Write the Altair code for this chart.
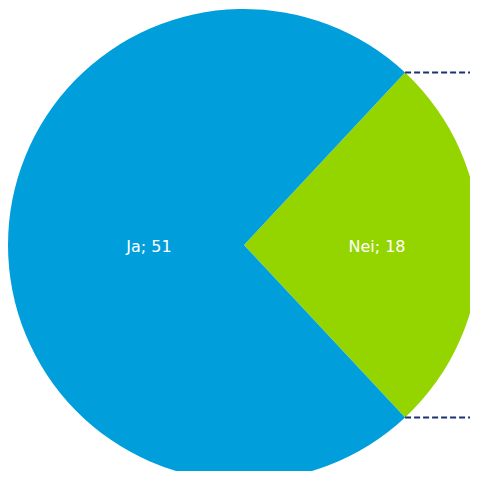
import math
import altair as alt
import pandas as pd

categories = ["Nei", "Ja"]
values = [18, 51]
colors = ["#94D500", "#009FDC"]

df = pd.DataFrame({"cat": categories, "val": values})
df["label"] = df["cat"] + "; " + df["val"].astype(str)
df["order"] = [0, 1]

W, H = 462, 463
CX, CY, R = 236, 237, 236

total = sum(values)
nei_span = 2 * math.pi * values[0] / total
start = math.pi / 2 - nei_span / 2
theta_range = [start, start + 2 * math.pi]

arcs = alt.Chart(df).mark_arc(stroke=None).encode(
    theta=alt.Theta("val:Q", stack=True, scale=alt.Scale(range=theta_range)),
    order=alt.Order("order:Q"),
    color=alt.Color("cat:N", scale=alt.Scale(domain=categories, range=colors), legend=None),
    radius=alt.value(R),
    x=alt.value(CX),
    y=alt.value(CY),
)

labels = alt.Chart(df).transform_joinaggregate(
    tot="sum(val)"
).transform_window(
    cum="sum(val)", sort=[alt.SortField("order")]
).transform_calculate(
    mid="(datum.cum - datum.val / 2) / datum.tot",
    lr="datum.cat == 'Ja' ? 95 : 133",
).mark_text(
    font="DejaVu Sans", fontSize=16, color="white", align="center", baseline="middle"
).encode(
    theta=alt.Theta("mid:Q", stack=None, scale=alt.Scale(domain=[0, 1], range=theta_range)),
    radius=alt.Radius("lr:Q", scale=None),
    text="label:N",
    x=alt.value(CX),
    y=alt.value(CY + 2),
)

# connector lines from the Nei slice edges toward the right
a1, a2 = start, start + nei_span
pts = [
    {"x": CX + R * math.sin(a1), "y": CY - R * math.cos(a1)},
    {"x": CX + R * math.sin(a2), "y": CY - R * math.cos(a2)},
]
rules = [
    alt.Chart(pd.DataFrame({"k": [0]})).mark_rule(
        color="#1A3370", strokeWidth=2, strokeDash=[6, 3]
    ).encode(x=alt.value(p["x"]), x2=alt.value(W + 20), y=alt.value(p["y"]))
    for p in pts
]

chart = alt.layer(arcs, labels, *rules).resolve_scale(theta="independent").properties(
    width=W, height=H, padding=0, autosize=alt.AutoSizeParams(type="none")
).configure_view(stroke=None)

chart.save("out.html", embed_options={"renderer": "svg", "actions": False})
